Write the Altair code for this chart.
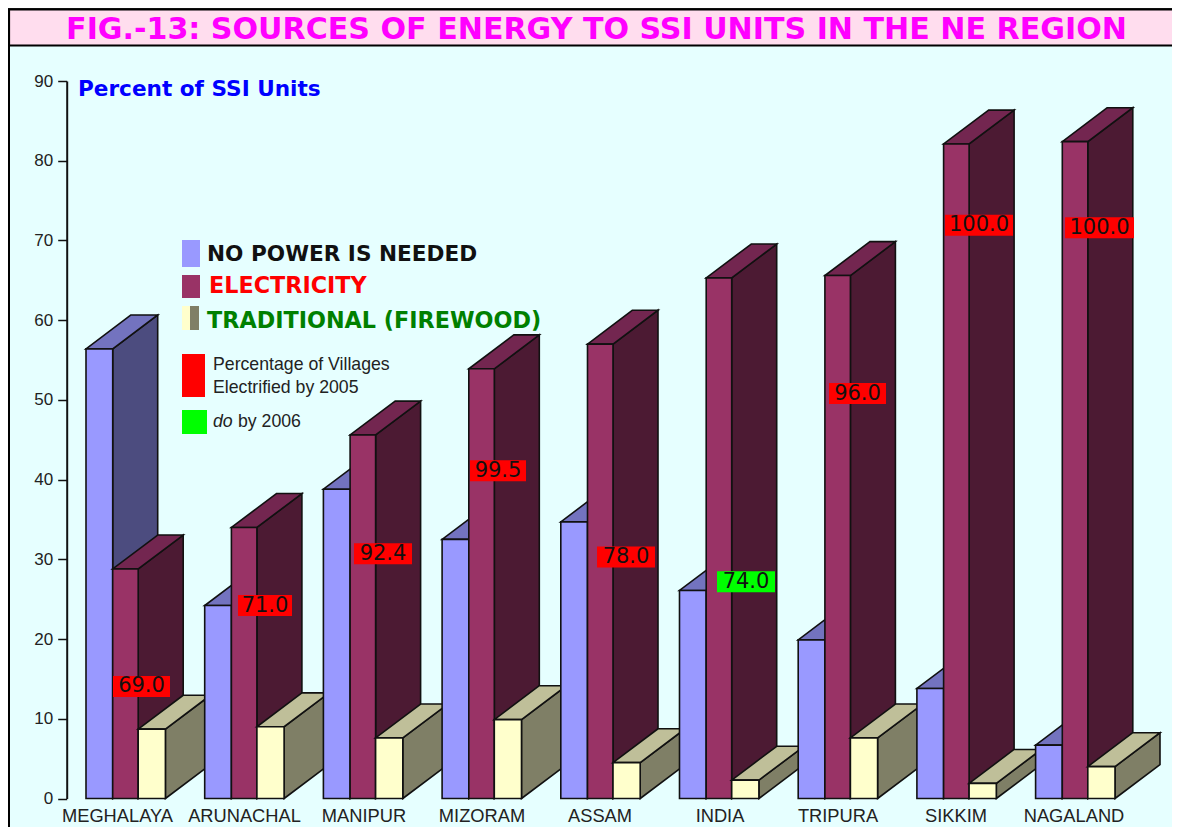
import altair as alt
import pandas as pd

categories = ["MEGHALAYA", "ARUNACHAL", "MANIPUR", "MIZORAM", "ASSAM", "INDIA", "TRIPURA", "SIKKIM", "NAGALAND"]
category_centres = [117.5, 244.5, 364, 482, 600, 720, 838, 956, 1074]
no_power = [56.4, 24.2, 38.8, 32.5, 34.7, 26.1, 19.9, 13.8, 6.7]
electricity = [28.8, 34.0, 45.6, 53.9, 57.0, 65.3, 65.6, 82.1, 82.4]
traditional = [8.7, 9.0, 7.6, 9.9, 4.5, 2.3, 7.6, 1.9, 4.0]
village_pct = ["69.0", "71.0", "92.4", "99.5", "78.0", "74.0", "96.0", "100.0", "100.0"]
village_col = ["#FF0000"] * 5 + ["#00FF00"] + ["#FF0000"] * 3
village_lvl = [14.05, 24.2, 30.7, 41.1, 30.3, 27.2, 50.8, 71.9, 71.6]
village_left = [113, 238, 354, 470, 597, 717, 829, 945, 1065]
village_right = [170, 292, 412, 526, 655, 775, 886, 1013, 1134]
y_ticks = list(range(0, 100, 10))

AX_X, AX_TOP, AX_BOT = 66.7, 81.0, 798.5
RIGHT = 1172
PW, PH = RIGHT - AX_X, AX_BOT - AX_TOP
SVG_BOTTOM = 826.5
DX, DY = 45.0, 4.25
PITCH, START = 118.7, 86.0
series = [
    (no_power, 0.0, 26.7, "#9999FF", "#7373BF", "#4C4C7F"),
    (electricity, 26.7, 52.2, "#993366", "#732650", "#4C1A33"),
    (traditional, 52.2, 79.4, "#FFFFCC", "#BFBF99", "#7F7F66"),
]
INK = "#111111"
xs = alt.Scale(domain=[AX_X, RIGHT], nice=False, zero=False)
ys = alt.Scale(domain=[0, 90], nice=False, zero=False)
axis = alt.Axis(values=y_ticks, title=None, grid=False, tickSize=9, tickColor=INK, tickWidth=1.5,
                domainColor=INK, domainWidth=2, labelFont="Liberation Sans", labelFontSize=17,
                labelColor="#222222", labelPadding=5, zindex=1, format="d")


def X(f):
    return alt.X(f"{f}:Q", scale=xs, axis=None)


def Y(f):
    return alt.Y(f"{f}:Q", scale=ys, axis=axis)


def px(x):
    return alt.value(x - AX_X)


def py(y):
    return alt.value(y - AX_TOP)


one = pd.DataFrame({"k": [0]})


def box(x0, x1, y0, y1, fill, stroke=None, sw=0):
    kw = {"stroke": stroke, "strokeWidth": sw} if stroke else {"strokeWidth": 0}
    return alt.Chart(one).mark_rect(fill=fill, **kw).encode(x=px(x0), x2=px(x1), y=py(y0), y2=py(y1))


def label(t, x, y, size, color, font="Liberation Sans", weight="normal", style="normal", align="left"):
    return alt.Chart(one).mark_text(
        text=t, fontSize=size, color=color, font=font, fontWeight=weight, fontStyle=style,
        align=align, baseline="middle").encode(x=px(x), y=py(y))


layers = [
    box(9, RIGHT + 10, 9.3, 850, "#E6FFFF", "black", 2),
    box(9, RIGHT + 10, 9.3, 45.5, "#FFDDEE", "black", 2.2),
    label("FIG.-13: SOURCES OF ENERGY TO SSI UNITS IN THE NE REGION", 596.5, 29.5, 30.1, "#FF00FF",
          "DejaVu Sans", "bold", align="center"),
    label("Percent of SSI Units", 78, 90, 21.6, "#0000FF", "DejaVu Sans", "bold"),
]

for i in range(len(categories)):
    start = START + i * PITCH
    for vals, a, b, front, top, side in series:
        v = vals[i]
        l, r = start + a, start + b
        side_df = pd.DataFrame({"x": [r, r + DX], "lo": [0, DY], "hi": [v, v + DY]})
        top_df = pd.DataFrame({"y": [v, v + DY], "x0": [l, l + DX], "x1": [r, r + DX]})
        front_df = pd.DataFrame({"x0": [l], "x1": [r], "lo": [0], "hi": [v]})
        layers.append(alt.Chart(side_df).mark_area(color=side, stroke=INK, strokeWidth=1.6, orient="vertical", opacity=1)
                      .encode(x=X("x"), y=Y("lo"), y2="hi:Q"))
        layers.append(alt.Chart(top_df).mark_area(color=top, stroke=INK, strokeWidth=1.6, orient="horizontal", opacity=1)
                      .encode(y=Y("y"), x=X("x0"), x2="x1:Q"))
        layers.append(alt.Chart(front_df).mark_rect(color=front, stroke=INK, strokeWidth=1.6)
                      .encode(x=X("x0"), x2="x1:Q", y=Y("lo"), y2="hi:Q"))

# x labels
cat_df = pd.DataFrame({"c": categories, "x": category_centres})
layers.append(alt.Chart(cat_df).mark_text(font="Liberation Sans", fontSize=18.3, color="#222222", baseline="alphabetic")
              .encode(x=X("x"), y=py(821.5), text="c:N"))

# village labels
vdf = pd.DataFrame({"t": village_pct, "c": village_col, "lvl": village_lvl, "l": village_left, "r": village_right})
vdf["lo"] = vdf.lvl - 1.32
vdf["hi"] = vdf.lvl + 1.32
vdf["m"] = (vdf.l + vdf.r) / 2
layers.append(alt.Chart(vdf).mark_rect(strokeWidth=0)
              .encode(x=X("l"), x2="r:Q", y=Y("lo"), y2="hi:Q", color=alt.Color("c:N", scale=None)))
layers.append(alt.Chart(vdf).mark_text(font="DejaVu Sans", fontSize=21, color="#111111", baseline="middle")
              .encode(x=X("m"), y=Y("lvl"), text="t:N"))

# legend
layers += [
    box(182, 200, 240, 267, "#9999FF"),
    box(182, 200, 275, 298, "#993366"),
    box(182, 190, 306, 330, "#FFFFCC"),
    box(190, 199, 306, 330, "#7F7F66"),
    box(182, 205, 354, 397, "#FF0000"),
    box(182, 207, 410, 434, "#00FF00"),
    label("NO POWER IS NEEDED", 207, 255, 21.6, "#111111", "DejaVu Sans", "bold"),
    label("ELECTRICITY", 209, 286, 22.3, "#FF0000", "DejaVu Sans", "bold"),
    label("TRADITIONAL (FIREWOOD)", 207, 321, 22.3, "#008000", "DejaVu Sans", "bold"),
    label("Percentage of Villages", 213, 365, 17.7, "#222222"),
    label("Electrified by 2005", 213, 388, 17.7, "#222222"),
    label("do", 213, 422, 17.7, "#222222", style="italic"),
    label("by 2006", 238, 422, 17.7, "#222222"),
]

chart = alt.layer(*layers).properties(
    width=PW, height=PH,
    autosize=alt.AutoSizeParams(type="none"),
    padding={"left": AX_X - 8, "top": AX_TOP - 8, "right": 0, "bottom": SVG_BOTTOM - AX_BOT},
    background="white",
).configure_view(stroke=None)

chart.save("out.html", embed_options={"renderer": "svg", "actions": False})
